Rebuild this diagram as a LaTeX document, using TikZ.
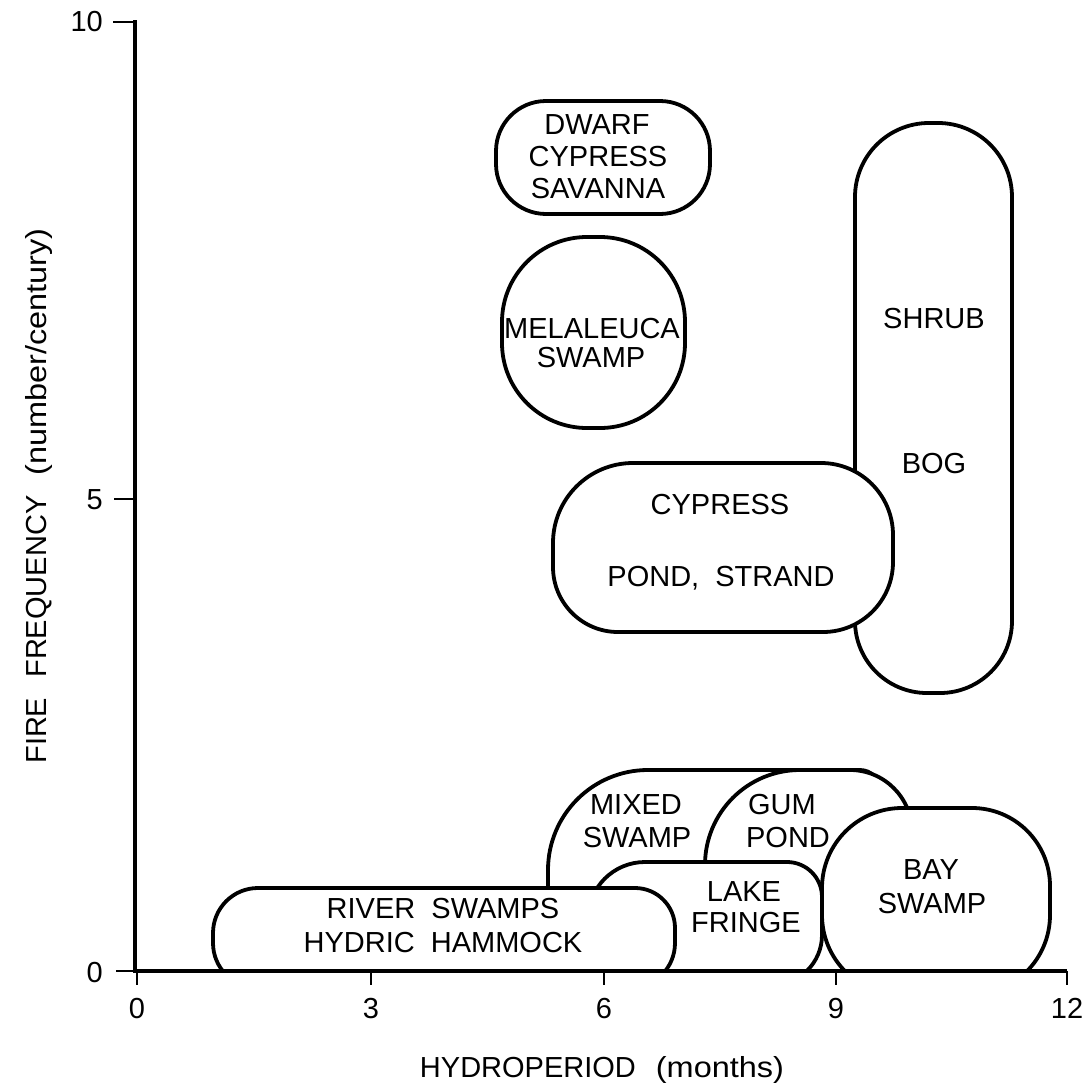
\documentclass[tikz,border=0pt]{standalone}
\usepackage{fontspec}
\usepackage{graphicx}
\setmainfont{Liberation Sans}
\newcommand\figfont{\fontsize{29}{33}\selectfont}
% #1 options, #2 L, #3 T, #4 R, #5 B, #6 rTL, #7 rTR, #8 rBR, #9 rBL
\newcommand\blob[9]{\path[#1] (#2,{#3+#6}) arc[start angle=180,end angle=270,radius=#6] -- ({#4-#7},#3) arc[start angle=270,end angle=360,radius=#7] -- (#4,{#5-#8}) arc[start angle=0,end angle=90,radius=#8] -- ({#2+#9},#5) arc[start angle=90,end angle=180,radius=#9] -- cycle;}
\begin{document}
\begin{tikzpicture}[x=1pt,y=-1pt,
  blobstyle/.style={draw=black,line width=3.8pt,fill=white,line join=round},
  fillonly/.style={fill=white},
  lineonly/.style={draw=black,line width=3.8pt,line join=round},
  lbl/.style={font=\figfont,inner sep=0pt,anchor=base},
  ticks/.style={line width=2pt},
  axisline/.style={line width=4.5pt}]
\path[use as bounding box, fill=white] (0,0) rectangle (1088,1087);

\begin{scope}
\clip (135,0) rectangle (1088,969);
% upper group
\blob{blobstyle}{496}{101}{710}{214}{50}{50}{50}{50}
\blob{blobstyle}{502}{237}{685}{428}{85}{85}{85}{85}
\blob{blobstyle}{855}{123}{1012}{693}{74}{74}{72}{72}
\blob{blobstyle}{553}{463}{893}{632}{80}{72}{70}{65}
% lower group
\blob{blobstyle}{548}{770}{880}{1010}{100}{20}{20}{20}
\blob{blobstyle}{705}{770}{912}{1010}{95}{62}{20}{20}
\blob{fillonly}{588}{862}{822}{985}{57}{35}{50}{50}
\blob{fillonly}{822}{808}{1050}{995}{80}{78}{80}{80}
\blob{lineonly}{588}{862}{822}{985}{57}{35}{50}{50}
\blob{lineonly}{822}{808}{1050}{995}{80}{78}{80}{80}
\blob{blobstyle}{213}{888}{675}{988}{45}{40}{45}{45}
\end{scope}

% labels inside shapes
\node[lbl] (dw1) at (597,134.5) {DWARF};
\node[lbl] (dw2) at (598,166.5) {CYPRESS};
\node[lbl] (dw3) at (598,198.5) {SAVANNA};
\node[lbl] (me1) at (592,338.5) {MELALEUCA};
\node[lbl] (me2) at (591,367) {SWAMP};
\node[lbl] (sh1) at (934,328) {SHRUB};
\node[lbl] (sh2) at (934,473.5) {BOG};
\node[lbl] (cy1) at (720,514.5) {CYPRESS};
\node[lbl] (cy2) at (721,586.5) {POND,\ \ STRAND};
\node[lbl] (mx1) at (636,814.5) {MIXED};
\node[lbl] (mx2) at (637,847.5) {SWAMP};
\node[lbl] (gu1) at (782,814.5) {GUM};
\node[lbl] (gu2) at (788,847.5) {POND};
\node[lbl] (la1) at (744,901.5) {LAKE};
\node[lbl] (la2) at (746,932.5) {FRINGE};
\node[lbl] (ba1) at (931,879.5) {BAY};
\node[lbl] (ba2) at (932,913) {SWAMP};
\node[lbl] (ri1) at (443,918.5) {RIVER\ \ SWAMPS};
\node[lbl] (ri2) at (443,952.5) {HYDRIC\ \ HAMMOCK};

% axes
\draw[axisline] (135,20) -- (135,971) -- (1067,971);
\draw[ticks] (113,22) -- (135,22);
\draw[ticks] (114,499) -- (135,499);
\draw[ticks] (116,971) -- (135,971);
\foreach \xx in {137,371,604,836,1067}{\draw[ticks] (\xx,971) -- (\xx,985);}

% tick labels
\node[lbl] (x0) at (137,1018.5) {0};
\node[lbl] (x3) at (371,1018.5) {3};
\node[lbl] (x6) at (604,1018.5) {6};
\node[lbl] (x9) at (836,1018.5) {9};
\node[lbl] (x12) at (1067,1018.5) {12};
\node[lbl,anchor=base east] (y10) at (103,31.5) {10};
\node[lbl,anchor=base east] (y5) at (103,509.5) {5};
\node[lbl,anchor=base east] (y0) at (103,982.5) {0};

% axis titles
\node[lbl] (xlab) at (602,1077) {HYDROPERIOD\hspace{20pt}\scalebox{1.12}[1]{(months)}};
\node[lbl,rotate=90] (ylab) at (46,496) {FIRE\hspace{20pt}FREQUENCY\hspace{20pt}\scalebox{1.12}[1]{(number/century)}};
\end{tikzpicture}
\end{document}
